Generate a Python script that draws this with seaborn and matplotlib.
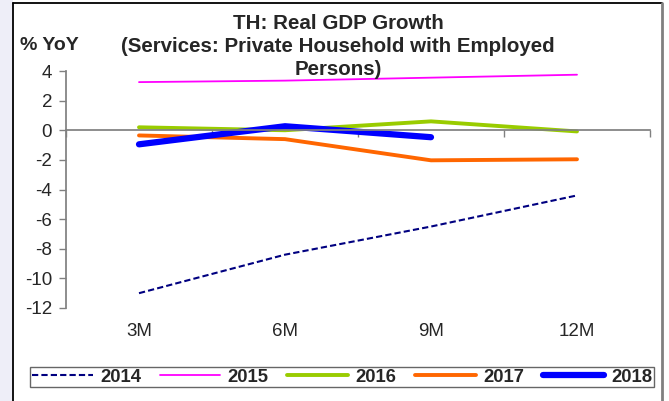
import numpy as np
import pandas as pd
import matplotlib
matplotlib.use("Agg")
import matplotlib.pyplot as plt
import seaborn as sns
from matplotlib.patches import Rectangle
from matplotlib.lines import Line2D

# ---- data ----
periods = ["3M", "6M", "9M", "12M"]
years = ["2014", "2015", "2016", "2017", "2018"]
y2014 = [-11.0, -8.4, -6.5, -4.4]
y2015 = [3.25, 3.35, 3.55, 3.75]
y2016 = [0.2, 0.0, 0.6, -0.08]
y2017 = [-0.35, -0.6, -2.03, -1.96]
y2018 = [-0.95, 0.27, -0.47, np.nan]
yticks = [-12, -10, -8, -6, -4, -2, 0, 2, 4]

colors = {"2014": "#000080", "2015": "#FF00FF", "2016": "#99CC00",
          "2017": "#FF6600", "2018": "#0000FF"}
widths = {"2014": 1.5, "2015": 1.3, "2016": 2.8, "2017": 2.8, "2018": 4.5}
dashes = {"2014": (3, 1.5), "2015": None, "2016": None, "2017": None, "2018": None}

series = {"2014": y2014, "2015": y2015, "2016": y2016, "2017": y2017, "2018": y2018}

sns.set_theme(style="white")
plt.rcParams["font.family"] = ["Liberation Sans", "DejaVu Sans"]

fig = plt.figure(figsize=(6.69, 4.01), dpi=100)
ax = fig.add_axes([66 / 669, 1 - 308 / 401, (650 - 66) / 669, (308 - 71) / 401])

for yr in years:
    df = pd.DataFrame({"period": periods, "value": series[yr]}).dropna()
    df["x"] = [periods.index(p) for p in df["period"]]
    sns.lineplot(data=df, x="x", y="value", ax=ax, color=colors[yr],
                 linewidth=widths[yr], label=yr, legend=False)
    if dashes[yr] is not None:
        ax.lines[-1].set_dashes(dashes[yr])
    ax.lines[-1].set_solid_capstyle("round")

ax.set_xlim(-0.5, 3.5)
ax.set_ylim(-12, 4)
ax.set_xlabel("")
ax.set_ylabel("")
ax.set_yticks(yticks)
ax.set_yticklabels([str(v) for v in yticks], fontsize=13.5)
ax.tick_params(axis="y", length=5, width=1, color="#808080", pad=5, left=True)

# x axis line at zero with boundary tick marks
ax.spines["bottom"].set_position(("data", 0))
ax.spines["bottom"].set_color("#808080")
ax.spines["left"].set_color("#808080")
ax.spines["top"].set_visible(False)
ax.spines["right"].set_visible(False)
ax.set_xticks(np.arange(-0.5, 4.0, 1.0))
ax.set_xticklabels([])
ax.tick_params(axis="x", length=5, width=1, color="#808080", bottom=True, direction="out")

# category labels at the bottom
sec = ax.secondary_xaxis("bottom")
sec.set_xticks(range(len(periods)))
sec.set_xticklabels(periods, fontsize=13.5)
sec.tick_params(length=0, pad=11)
sec.spines["bottom"].set_visible(False)

ax.set_facecolor("white")
fig.patch.set_facecolor("white")

# title and unit label
fig.text(338 / 669, 1 - 14 / 401,
         "TH: Real GDP Growth\n(Services: Private Household with Employed\nPersons)",
         ha="center", va="top", fontsize=14.8, fontweight="bold", linespacing=1.28)
fig.text(20 / 669, 1 - 45 / 401, "% YoY", ha="left", va="center",
         fontsize=14, fontweight="bold")

# legend
handles = [Line2D([], [], color=colors[y], linewidth=widths[y],
                  solid_capstyle="round") for y in years]
handles[0].set_dashes(dashes["2014"])
leg = fig.legend(handles, years, loc="center",
                 bbox_to_anchor=(342 / 669, 1 - 377 / 401),
                 ncol=5, frameon=True, fancybox=False,
                 handlelength=3.3, handletextpad=0.4, borderpad=0.1,
                 columnspacing=1.0, borderaxespad=0,
                 prop={"weight": "bold", "size": 13.3})
leg.get_frame().set_edgecolor("#404040")
leg.get_frame().set_linewidth(1.0)

# outer frame and left strip
fig.patches.append(Rectangle((0, 0), 13 / 669, 1, transform=fig.transFigure,
                             facecolor="#EEEEF8", edgecolor="none", zorder=0))
fig.lines.append(Line2D([13 / 669, 13 / 669], [0, 1 - 3 / 401], transform=fig.transFigure,
                        color="black", linewidth=1.3))
fig.lines.append(Line2D([13 / 669, 662 / 669], [1 - 3 / 401, 1 - 3 / 401],
                        transform=fig.transFigure, color="black", linewidth=1.3))
fig.lines.append(Line2D([662 / 669, 662 / 669], [0, 1 - 3 / 401], transform=fig.transFigure,
                        color="#808080", linewidth=2))

fig.savefig("out.png", dpi=100)
